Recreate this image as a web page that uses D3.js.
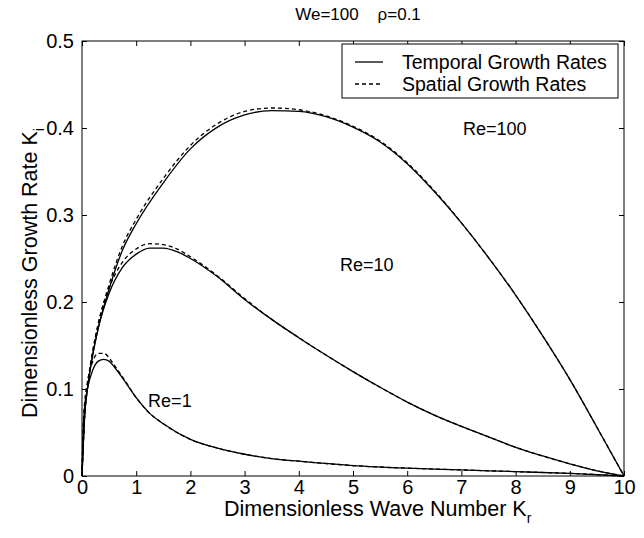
<!DOCTYPE html>
<html>
<head>
<meta charset="utf-8">
<script src="https://cdn.jsdelivr.net/npm/d3@7"></script>
<style>
  body { margin: 0; background: #fff; }
  svg { display: block; font-family: "Liberation Sans", Arial, sans-serif; }
  text { fill: #000; }
</style>
</head>
<body>
<svg id="chart" width="644" height="538"></svg>
<script>
// Wave numbers at which the growth rates are sampled
const kRe1 = [0, 0.02, 0.05, 0.1, 0.2, 0.3, 0.4, 0.5, 0.6, 0.8, 1.0, 1.25, 1.5, 2, 2.5, 3, 3.5, 4, 5, 6, 7, 8, 9, 10];
const temporalRe1 = [0, 0.05, 0.08, 0.1, 0.122, 0.132, 0.134, 0.132, 0.125, 0.108, 0.09, 0.072, 0.06, 0.042, 0.032, 0.025, 0.02, 0.017, 0.012, 0.009, 0.007, 0.005, 0.003, 0];
const spatialRe1 = [0, 0.055, 0.085, 0.108, 0.132, 0.141, 0.141, 0.136, 0.127, 0.109, 0.09, 0.072, 0.06, 0.042, 0.032, 0.025, 0.02, 0.017, 0.012, 0.009, 0.007, 0.005, 0.003, 0];

const kRe10 = [0, 0.05, 0.1, 0.2, 0.3, 0.5, 0.75, 1.0, 1.25, 1.5, 1.75, 2, 2.5, 3, 3.5, 4, 4.5, 5, 5.5, 6, 6.5, 7, 7.5, 8, 8.5, 9, 9.5, 10];
const temporalRe10 = [0, 0.07, 0.1, 0.14, 0.17, 0.21, 0.24, 0.255, 0.262, 0.262, 0.258, 0.25, 0.229, 0.203, 0.18, 0.159, 0.139, 0.12, 0.102, 0.085, 0.07, 0.057, 0.045, 0.033, 0.023, 0.014, 0.006, 0];
const spatialRe10 = [0, 0.072, 0.103, 0.144, 0.175, 0.216, 0.246, 0.261, 0.267, 0.266, 0.261, 0.252, 0.23, 0.204, 0.18, 0.159, 0.139, 0.12, 0.102, 0.085, 0.07, 0.057, 0.045, 0.033, 0.023, 0.014, 0.006, 0];

const kRe100 = [0, 0.05, 0.1, 0.2, 0.3, 0.5, 0.75, 1, 1.5, 2, 2.5, 3, 3.5, 4, 4.5, 5, 5.5, 6, 6.5, 7, 7.5, 8, 8.5, 9, 9.5, 10];
const temporalRe100 = [0, 0.07, 0.1, 0.14, 0.17, 0.215, 0.26, 0.29, 0.337, 0.376, 0.401, 0.415, 0.42, 0.419, 0.413, 0.401, 0.384, 0.359, 0.327, 0.291, 0.251, 0.208, 0.161, 0.111, 0.056, 0];
const spatialRe100 = [0, 0.072, 0.103, 0.144, 0.175, 0.22, 0.265, 0.295, 0.342, 0.38, 0.405, 0.419, 0.423, 0.421, 0.414, 0.402, 0.385, 0.36, 0.328, 0.291, 0.251, 0.208, 0.161, 0.111, 0.056, 0];

const xTicks = [0, 1, 2, 3, 4, 5, 6, 7, 8, 9, 10];
const yTicks = [0, 0.1, 0.2, 0.3, 0.4, 0.5];

const curveLabels = [
  { text: "Re=100", k: 7.03, v: 0.392 },
  { text: "Re=10", k: 4.76, v: 0.236 },
  { text: "Re=1", k: 1.22, v: 0.079 }
];

const svg = d3.select("#chart");
const mLeft = 82, mRight = 624, mTop = 41, mBottom = 476;

const x = d3.scaleLinear().domain([0, 10]).range([mLeft, mRight]);
const y = d3.scaleLinear().domain([0, 0.5]).range([mBottom, mTop]);

// Frame
svg.append("rect")
  .attr("x", mLeft).attr("y", mTop)
  .attr("width", mRight - mLeft).attr("height", mBottom - mTop)
  .attr("fill", "none").attr("stroke", "#000").attr("stroke-width", 1);

// Axes with inward ticks on all four sides
const fmtY = d => d === 0 ? "0" : d3.format(".1f")(d);
const tickLen = 5;

const axB = svg.append("g").attr("transform", `translate(0,${mBottom})`)
  .call(d3.axisBottom(x).tickValues(xTicks).tickSizeInner(-tickLen).tickSizeOuter(0).tickPadding(4).tickFormat(d3.format("d")));
const axT = svg.append("g").attr("transform", `translate(0,${mTop})`)
  .call(d3.axisTop(x).tickValues(xTicks).tickSizeInner(-tickLen).tickSizeOuter(0).tickFormat(""));
const axL = svg.append("g").attr("transform", `translate(${mLeft},0)`)
  .call(d3.axisLeft(y).tickValues(yTicks).tickSizeInner(-tickLen).tickSizeOuter(0).tickPadding(8).tickFormat(fmtY));
const axR = svg.append("g").attr("transform", `translate(${mRight},0)`)
  .call(d3.axisRight(y).tickValues(yTicks).tickSizeInner(-tickLen).tickSizeOuter(0).tickFormat(""));

[axB, axT, axL, axR].forEach(g => {
  g.select(".domain").remove();
  g.selectAll("line").attr("stroke", "#000");
  g.selectAll("text").attr("font-size", 20).attr("fill", "#000")
    .attr("font-family", "'Liberation Sans', Arial, sans-serif");
});

// Curves
const line = d3.line().x(d => x(d[0])).y(d => y(d[1])).curve(d3.curveMonotoneX);
const series = [
  [kRe1, temporalRe1, false], [kRe1, spatialRe1, true],
  [kRe10, temporalRe10, false], [kRe10, spatialRe10, true],
  [kRe100, temporalRe100, false], [kRe100, spatialRe100, true]
];
series.forEach(([ks, vs, dashed]) => {
  svg.append("path")
    .datum(ks.map((k, i) => [k, vs[i]]))
    .attr("d", line)
    .attr("fill", "none")
    .attr("stroke", "#000")
    .attr("stroke-width", 1.3)
    .attr("stroke-dasharray", dashed ? "4,3" : null);
});

// Reynolds number labels
svg.selectAll("text.re").data(curveLabels).enter().append("text")
  .attr("class", "re")
  .attr("x", d => x(d.k)).attr("y", d => y(d.v))
  .attr("font-size", 18)
  .text(d => d.text);

// Title
const title = svg.append("text")
  .attr("x", 358).attr("y", 20)
  .attr("text-anchor", "middle").attr("font-size", 17)
  .attr("xml:space", "preserve");
title.append("tspan").text("We=100    ");
title.append("tspan").text("ρ=0.1");

// Axis titles with subscripts
const xl = svg.append("text")
  .attr("x", 224).attr("y", 516)
  .attr("font-size", 21.5);
xl.append("tspan").text("Dimensionless Wave Number K");
xl.append("tspan").attr("dy", 7).attr("font-size", 14).text("r");

const yl = svg.append("text")
  .attr("transform", `translate(37,273) rotate(-90)`)
  .attr("text-anchor", "middle").attr("font-size", 21.5);
yl.append("tspan").text("Dimensionless Growth Rate K");
yl.append("tspan").attr("dy", 7).attr("font-size", 14).text("i");

// Legend
const lg = svg.append("g");
lg.append("rect")
  .attr("x", 342).attr("y", 44).attr("width", 276).attr("height", 54)
  .attr("fill", "#fff").attr("stroke", "#000").attr("stroke-width", 1);
[["Temporal Growth Rates", null, 62], ["Spatial Growth Rates", "4,3", 84]].forEach(([t, dash, yy]) => {
  lg.append("line").attr("x1", 355).attr("x2", 383).attr("y1", yy).attr("y2", yy)
    .attr("stroke", "#000").attr("stroke-width", 1.3).attr("stroke-dasharray", dash);
  lg.append("text").attr("x", 402).attr("y", yy + 7).attr("font-size", 19.5).text(t);
});
</script>
</body>
</html>
